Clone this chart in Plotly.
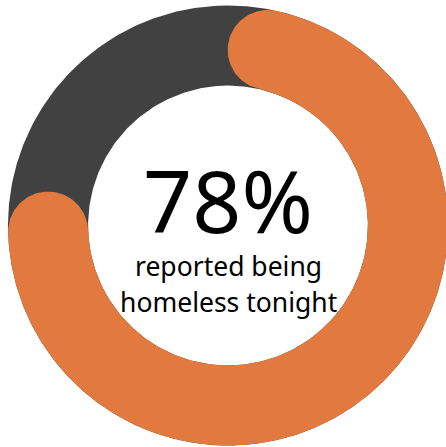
import numpy as np
import plotly.graph_objects as go

# Share of respondents and the caption shown in the middle of the ring
share_pct = 78
headline = f"{share_pct}%"
caption_lines = ["reported being", "homeless tonight"]

ORANGE = "#E27A3F"
GREY = "#414141"
FONT = "Noto Sans"

# Ring geometry in axis units (outer radius = 1)
R_OUT = 1.0
R_IN = 0.636
R_MID = (R_OUT + R_IN) / 2
HALF_W = (R_OUT - R_IN) / 2


def polar(r, theta):
    """Angle measured clockwise from 12 o'clock."""
    return r * np.sin(theta), r * np.cos(theta)


def disk(r, n=400):
    t = np.linspace(0, 2 * np.pi, n)
    return polar(r, t)


def rounded_arc(frac, n=500):
    """Closed outline of a ring segment with round caps covering `frac` of the circle."""
    span = 2 * np.pi * frac
    cap = HALF_W / R_MID
    a0, a1 = cap, span - cap
    t = np.linspace(a0, a1, n)
    ox, oy = polar(R_OUT, t)
    ix, iy = polar(R_IN, t[::-1])
    phi = np.linspace(0, np.pi, 80)

    # leading cap
    cx1, cy1 = polar(R_MID, a1)
    u1 = np.array([np.sin(a1), np.cos(a1)])
    t1 = np.array([np.cos(a1), -np.sin(a1)])
    ex = cx1 + HALF_W * (np.cos(phi) * u1[0] + np.sin(phi) * t1[0])
    ey = cy1 + HALF_W * (np.cos(phi) * u1[1] + np.sin(phi) * t1[1])

    # trailing cap
    cx0, cy0 = polar(R_MID, a0)
    u0 = np.array([np.sin(a0), np.cos(a0)])
    t0 = np.array([np.cos(a0), -np.sin(a0)])
    sx = cx0 - HALF_W * (np.cos(phi) * u0[0] + np.sin(phi) * t0[0])
    sy = cy0 - HALF_W * (np.cos(phi) * u0[1] + np.sin(phi) * t0[1])

    x = np.concatenate([ox, ex, ix, sx])
    y = np.concatenate([oy, ey, iy, sy])
    return x, y


fig = go.Figure()

gx, gy = disk(R_OUT)
fig.add_trace(go.Scatter(x=gx, y=gy, fill="toself", fillcolor=GREY,
                         mode="lines", line=dict(width=0, color=GREY),
                         hoverinfo="skip"))
hx, hy = disk(R_IN)
fig.add_trace(go.Scatter(x=hx, y=hy, fill="toself", fillcolor="white",
                         mode="lines", line=dict(width=0, color="white"),
                         hoverinfo="skip"))
ax_, ay_ = rounded_arc(share_pct / 100)
fig.add_trace(go.Scatter(x=ax_, y=ay_, fill="toself", fillcolor=ORANGE,
                         mode="lines", line=dict(width=0, color=ORANGE),
                         hoverinfo="skip"))

fig.add_annotation(x=0, y=0.116, xref="x", yref="y", text=headline,
                   showarrow=False, xanchor="center", yanchor="middle",
                   font=dict(family=FONT, size=86, color="black"))

# caption lines placed one by one for a looser line spacing
caption_y = [-0.186, -0.348]
for line, yy in zip(caption_lines, caption_y):
    fig.add_annotation(x=0, y=yy, xref="x", yref="y", text=line,
                       showarrow=False, xanchor="center", yanchor="middle",
                       font=dict(family=FONT, size=26.5, color="black"))

W, H = 446, 447
SCALE = 220.0  # pixels per axis unit
CX, CY = 228.0, 225.5  # ring centre in pixels from top-left

fig.update_layout(
    width=W, height=H,
    margin=dict(l=0, r=0, t=0, b=0),
    paper_bgcolor="white", plot_bgcolor="white",
    showlegend=False,
    xaxis=dict(range=[-CX / SCALE, (W - CX) / SCALE], visible=False, fixedrange=True),
    yaxis=dict(range=[-(H - CY) / SCALE, CY / SCALE], visible=False, fixedrange=True),
)

fig.write_html("out.html", config={"displayModeBar": False})
